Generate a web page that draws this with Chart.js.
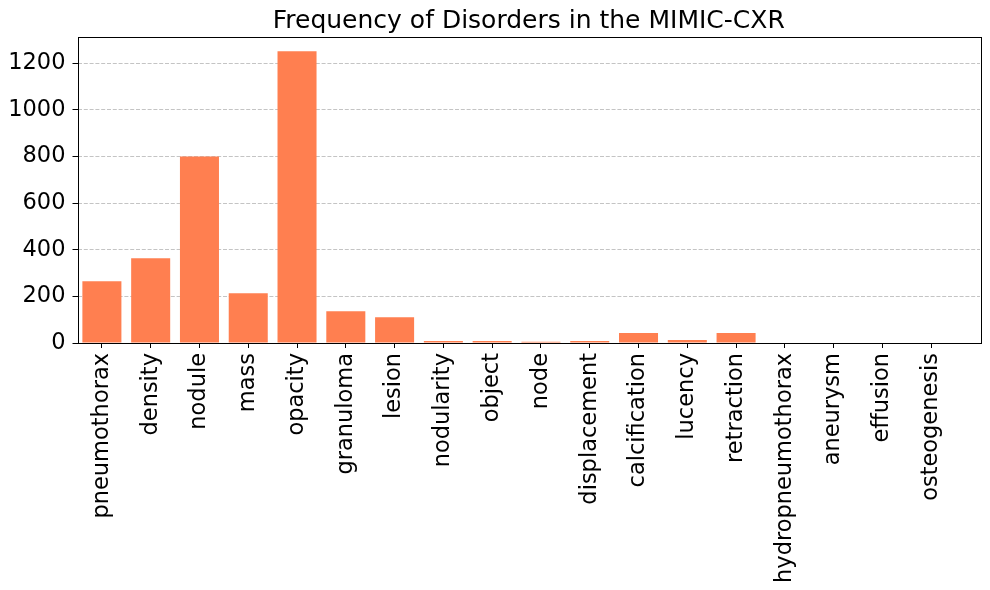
<!DOCTYPE html>
<html>
<head>
<meta charset="utf-8">
<script src="https://cdn.jsdelivr.net/npm/chart.js@4.4.0/dist/chart.umd.min.js"></script>
<style>
html,body{margin:0;padding:0;background:#fff;}
#wrap{width:990px;height:590px;}
</style>
</head>
<body>
<div id="wrap"><canvas id="c" width="990" height="590"></canvas></div>
<script>
const categories = ["pneumothorax","density","nodule","mass","opacity","granuloma","lesion","nodularity","object","node","displacement","calcification","lucency","retraction","hydropneumothorax","aneurysm","effusion","osteogenesis"];
const counts = [265, 364, 800, 214, 1252, 136, 111, 9, 9, 5, 9, 43, 13, 43, 0, 0, 0, 0];
const yTicks = [0, 200, 400, 600, 800, 1000, 1200];
const titleText = "Frequency of Disorders in the MIMIC-CXR";

const FONT = "'DejaVu Sans', sans-serif";

const framePlugin = {
  id: 'frame',
  afterDraw(chart) {
    const a = chart.chartArea, ctx = chart.ctx;
    ctx.save();
    ctx.strokeStyle = '#000';
    ctx.lineWidth = 1;
    ctx.setLineDash([]);
    ctx.strokeRect(Math.round(a.left) + 0.5, Math.round(a.top) + 0.5, Math.round(a.right - a.left), Math.round(a.bottom - a.top));
    // title centered over the plot area
    ctx.fillStyle = '#000';
    ctx.font = "25px " + FONT;
    ctx.textAlign = 'center';
    ctx.textBaseline = 'alphabetic';
    ctx.fillText(titleText, (a.left + a.right) / 2, 28);
    ctx.restore();
  }
};

new Chart(document.getElementById('c'), {
  type: 'bar',
  data: {
    datasets: [{
      data: counts.map((v, i) => ({x: i, y: v})),
      backgroundColor: '#FF7F50',
      borderWidth: 0,
      inflateAmount: 0,
      barPercentage: 0.8,
      categoryPercentage: 1.0
    }]
  },
  options: {
    responsive: false,
    animation: false,
    devicePixelRatio: 1,
    layout: {padding: {left: 0, right: 10, top: 37, bottom: 0}},
    plugins: {
      legend: {display: false},
      tooltip: {enabled: false},
      title: {display: false}
    },
    scales: {
      x: {
        type: 'linear',
        offset: false,
        min: -0.5,
        max: 18.0,
        afterBuildTicks: s => { s.ticks = categories.map((_, i) => ({value: i})); },
        afterFit: s => { s.height = 247; },
        border: {display: false},
        grid: {display: true, offset: false, drawOnChartArea: false, drawTicks: true, tickLength: 5, tickColor: '#000', tickWidth: 1},
        ticks: {
          autoSkip: false,
          maxRotation: 90,
          minRotation: 90,
          padding: 5,
          color: '#000',
          font: {family: FONT, size: 22.5},
          callback: v => categories[v]
        }
      },
      y: {
        min: 0,
        max: 1313,
        afterBuildTicks: s => { s.ticks = yTicks.map(v => ({value: v})); },
        afterFit: s => { s.width = 77.5; },
        border: {display: false, dash: [4, 1.8]},
        grid: {display: true, drawOnChartArea: true, color: '#c4c4c4', lineWidth: 1, drawTicks: true, tickLength: 5, tickColor: '#000', tickWidth: 1, tickBorderDash: []},
        ticks: {
          padding: 7,
          color: '#000',
          font: {family: FONT, size: 22.5},
          callback: v => String(v)
        }
      }
    }
  },
  plugins: [framePlugin]
});
</script>
</body>
</html>
